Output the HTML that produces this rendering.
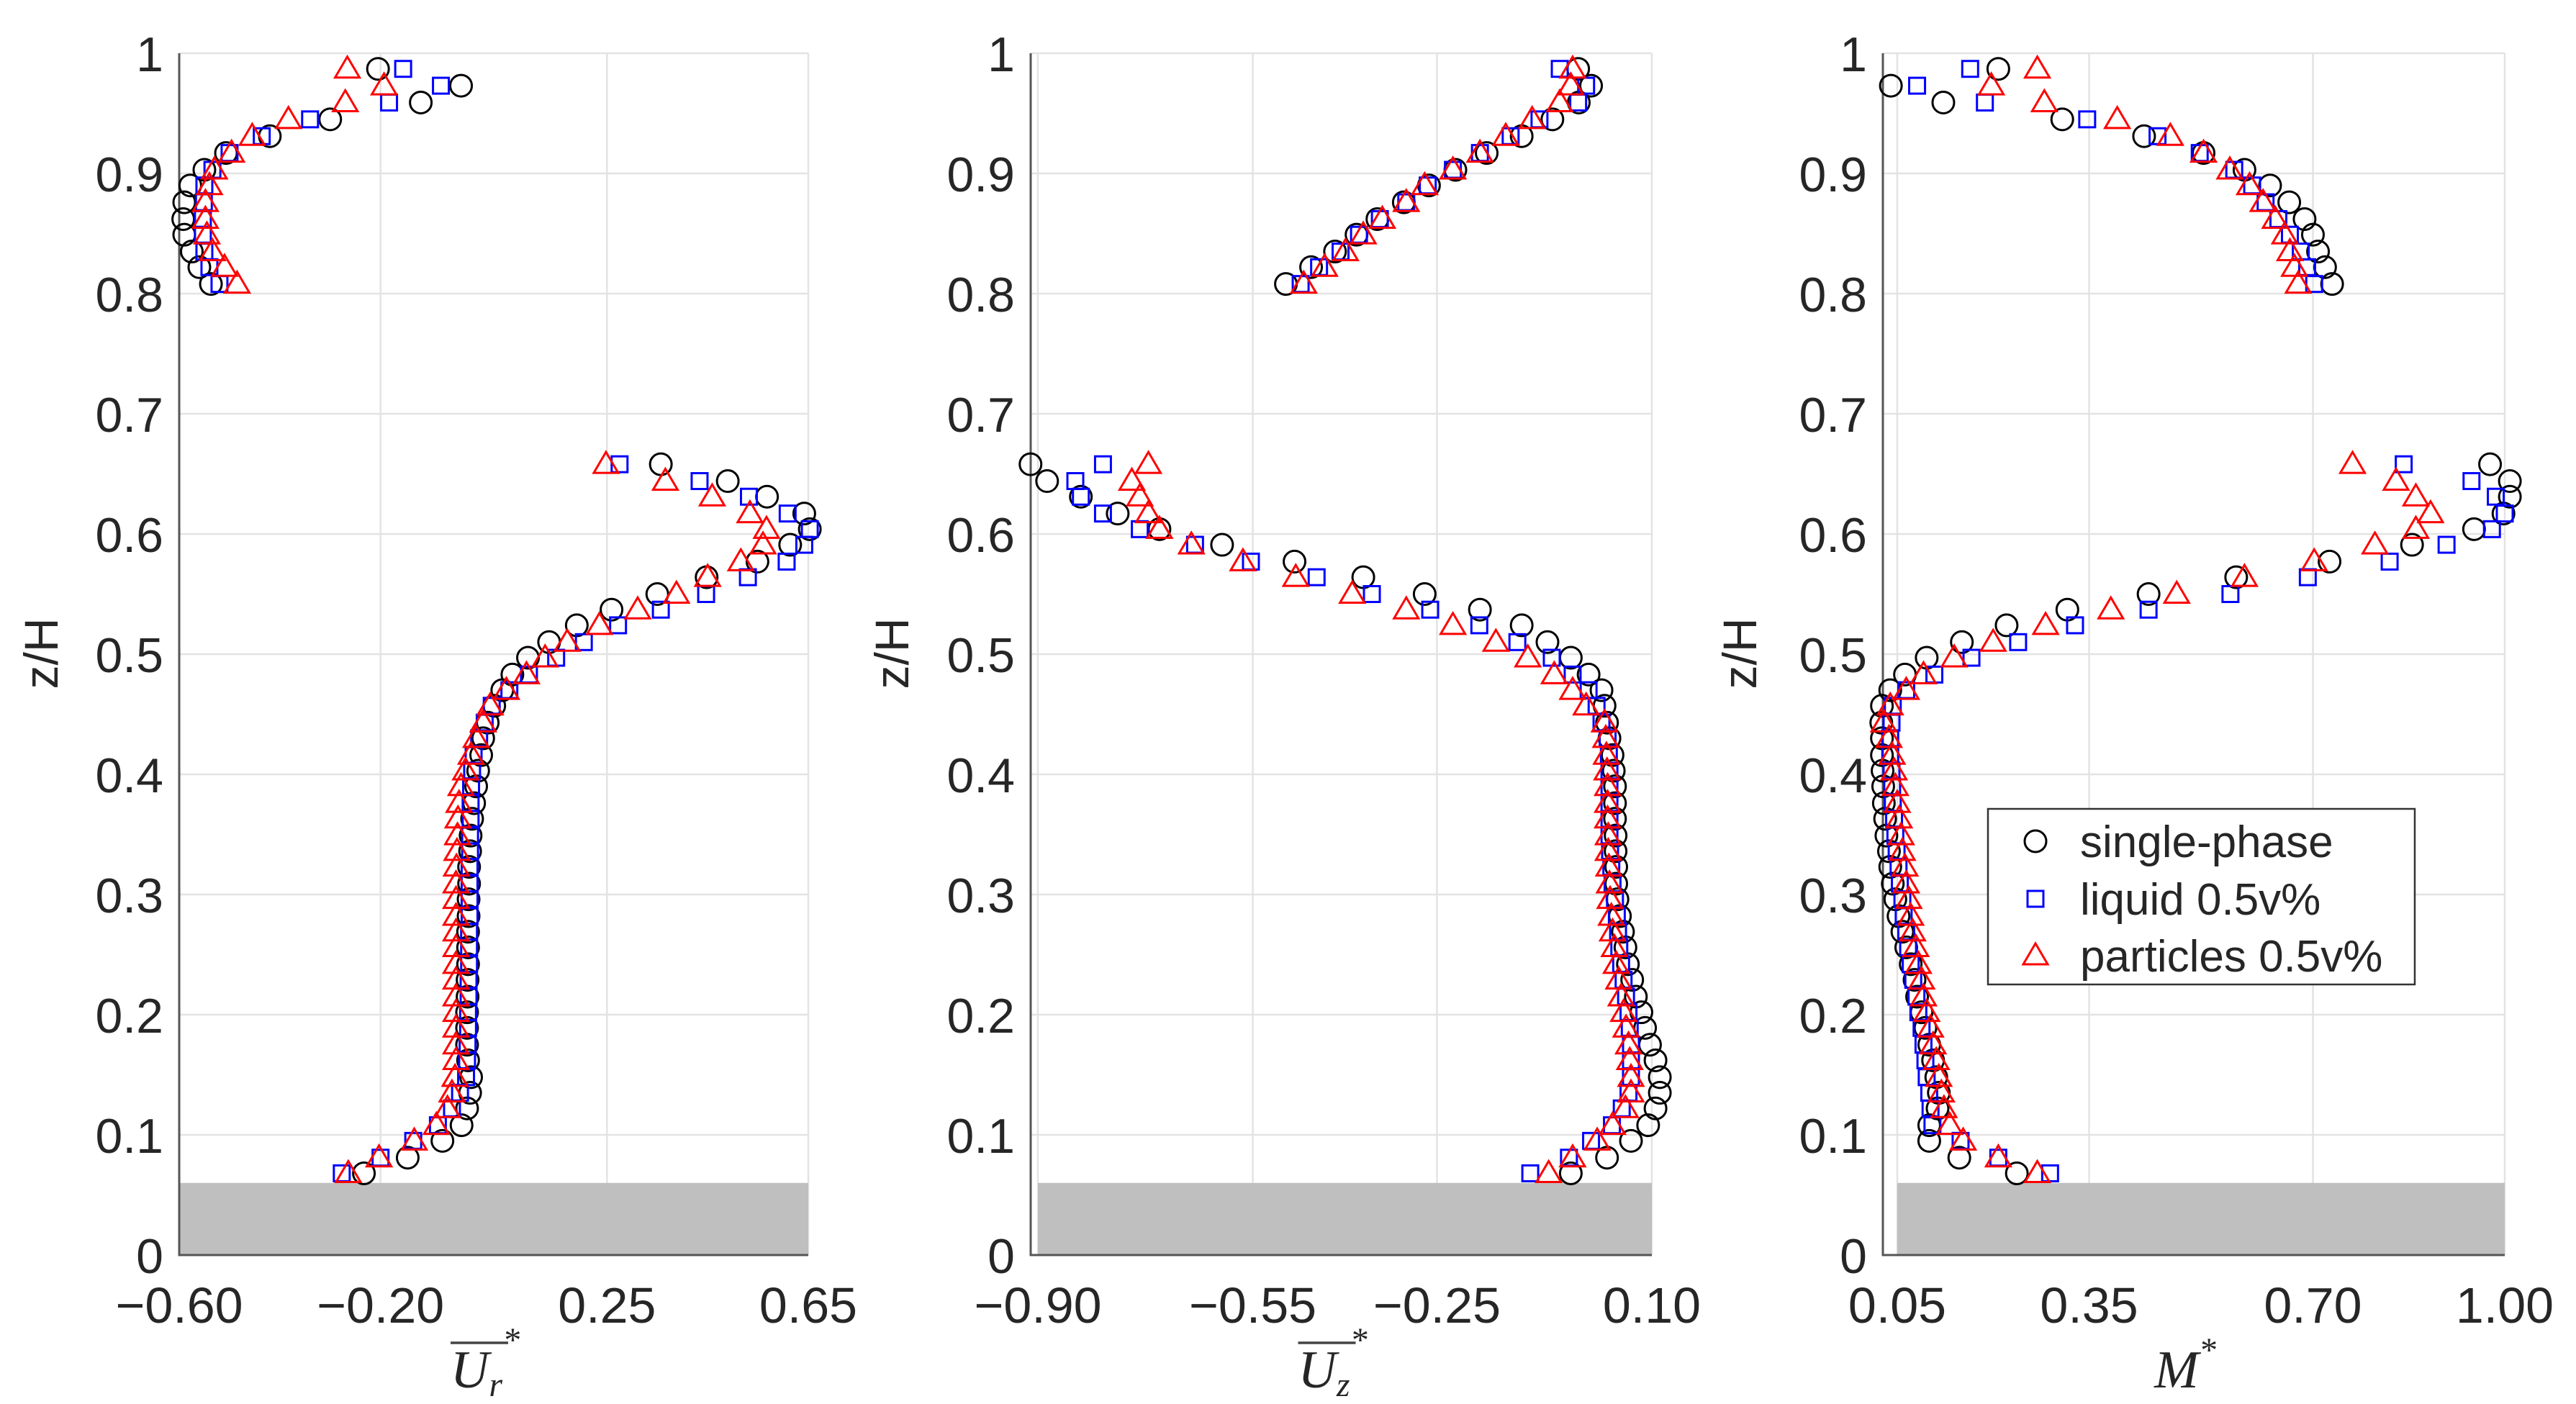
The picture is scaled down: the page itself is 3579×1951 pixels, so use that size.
<!DOCTYPE html>
<html><head><meta charset="utf-8">
<style>
html,body{margin:0;padding:0;background:#fff;}
svg{display:block;}
text{font-family:"Liberation Sans",sans-serif;fill:#262626;}
.ser{font-family:"Liberation Serif",serif;font-style:italic;}
</style></head>
<body>
<svg id="chart" width="3579" height="1951" viewBox="0 0 3579 1951" xmlns="http://www.w3.org/2000/svg"></svg>
<script>
// shared z/H positions: 45 lower points then 14 upper points
const zVals = [0.068,0.081,0.095,0.108,0.122,0.135,0.148,0.162,0.175,0.189,0.202,0.215,0.229,0.242,0.256,0.269,0.282,0.296,0.309,0.323,0.336,0.349,0.363,0.376,0.390,0.403,0.416,0.430,0.443,0.457,0.470,0.483,0.497,0.510,0.524,0.537,0.550,0.564,0.577,0.591,0.604,0.617,0.631,0.644,0.658,
 0.808,0.822,0.835,0.849,0.862,0.876,0.890,0.903,0.917,0.931,0.945,0.959,0.973,0.987];

const urSingle = [-0.233,-0.146,-0.077,-0.039,-0.028,-0.022,-0.020,-0.026,-0.028,-0.028,-0.028,-0.027,-0.027,-0.026,-0.026,-0.026,-0.025,-0.025,-0.024,-0.024,-0.022,-0.021,-0.018,-0.014,-0.010,-0.006,0.000,0.004,0.013,0.026,0.042,0.062,0.093,0.135,0.190,0.259,0.350,0.448,0.549,0.614,0.653,0.642,0.568,0.490,0.357,
 -0.537,-0.560,-0.575,-0.590,-0.592,-0.590,-0.578,-0.550,-0.507,-0.420,-0.300,-0.120,-0.040,-0.205];
const urLiquid = [-0.277,-0.200,-0.135,-0.086,-0.058,-0.042,-0.030,-0.028,-0.027,-0.026,-0.026,-0.025,-0.025,-0.024,-0.024,-0.024,-0.023,-0.023,-0.023,-0.023,-0.022,-0.022,-0.021,-0.021,-0.020,-0.018,-0.015,-0.004,0.007,0.021,0.056,0.095,0.149,0.204,0.272,0.357,0.447,0.530,0.607,0.642,0.653,0.609,0.532,0.434,0.275,
 -0.520,-0.540,-0.550,-0.553,-0.553,-0.551,-0.550,-0.534,-0.500,-0.436,-0.340,-0.183,-0.080,-0.155];
const urParticles = [-0.264,-0.203,-0.133,-0.089,-0.067,-0.058,-0.052,-0.050,-0.050,-0.050,-0.050,-0.050,-0.050,-0.050,-0.050,-0.050,-0.050,-0.050,-0.050,-0.049,-0.048,-0.047,-0.046,-0.044,-0.040,-0.031,-0.020,-0.010,0.004,0.018,0.050,0.090,0.127,0.171,0.235,0.311,0.388,0.450,0.516,0.560,0.567,0.534,0.459,0.366,0.248,
 -0.485,-0.510,-0.534,-0.545,-0.548,-0.548,-0.540,-0.530,-0.496,-0.455,-0.383,-0.270,-0.193,-0.266];

const uzSingle = [-0.032,0.027,0.066,0.094,0.106,0.113,0.113,0.106,0.097,0.089,0.083,0.074,0.068,0.061,0.057,0.053,0.048,0.044,0.042,0.042,0.041,0.041,0.040,0.040,0.040,0.038,0.036,0.031,0.027,0.023,0.018,-0.003,-0.032,-0.070,-0.112,-0.180,-0.270,-0.370,-0.482,-0.600,-0.702,-0.770,-0.830,-0.885,-0.912,
 -0.496,-0.455,-0.416,-0.381,-0.347,-0.304,-0.263,-0.220,-0.169,-0.112,-0.062,-0.019,0.001,-0.020];
const uzLiquid = [-0.098,-0.035,0.001,0.035,0.051,0.062,0.066,0.066,0.066,0.064,0.062,0.058,0.054,0.050,0.047,0.045,0.043,0.040,0.036,0.034,0.032,0.031,0.031,0.031,0.031,0.031,0.030,0.028,0.018,0.010,-0.003,-0.029,-0.063,-0.119,-0.181,-0.261,-0.356,-0.446,-0.553,-0.644,-0.734,-0.794,-0.830,-0.839,-0.794,
 -0.472,-0.442,-0.407,-0.377,-0.343,-0.300,-0.265,-0.224,-0.180,-0.130,-0.083,-0.020,-0.007,-0.050];
const uzParticles = [-0.068,-0.029,0.011,0.036,0.057,0.066,0.066,0.064,0.062,0.058,0.054,0.050,0.046,0.042,0.039,0.036,0.034,0.032,0.031,0.030,0.029,0.029,0.028,0.028,0.028,0.027,0.026,0.025,0.023,-0.007,-0.029,-0.059,-0.102,-0.154,-0.224,-0.300,-0.388,-0.480,-0.566,-0.650,-0.702,-0.720,-0.734,-0.747,-0.720,
 -0.467,-0.433,-0.399,-0.370,-0.339,-0.300,-0.270,-0.224,-0.180,-0.138,-0.095,-0.050,-0.032,-0.029];

const mSingle = [0.237,0.147,0.100,0.100,0.113,0.115,0.111,0.106,0.100,0.094,0.088,0.081,0.077,0.071,0.064,0.058,0.052,0.047,0.043,0.039,0.037,0.033,0.031,0.029,0.028,0.027,0.026,0.026,0.025,0.026,0.039,0.062,0.096,0.151,0.221,0.316,0.443,0.580,0.726,0.855,0.952,0.998,1.008,1.008,0.977,
 0.730,0.719,0.708,0.700,0.687,0.663,0.633,0.593,0.529,0.436,0.308,0.122,0.040,0.208];
const mLiquid = [0.289,0.208,0.149,0.105,0.102,0.100,0.096,0.094,0.091,0.088,0.083,0.080,0.075,0.071,0.067,0.064,0.060,0.058,0.054,0.052,0.049,0.047,0.045,0.043,0.042,0.041,0.039,0.039,0.041,0.043,0.064,0.108,0.166,0.239,0.328,0.443,0.571,0.692,0.820,0.909,0.980,1.000,0.986,0.948,0.842,
 0.702,0.691,0.681,0.664,0.646,0.626,0.605,0.577,0.523,0.457,0.347,0.187,0.081,0.164];
const mParticles = [0.269,0.208,0.153,0.132,0.123,0.119,0.115,0.111,0.106,0.102,0.096,0.091,0.088,0.083,0.079,0.074,0.071,0.068,0.064,0.062,0.058,0.056,0.053,0.050,0.047,0.045,0.042,0.037,0.029,0.039,0.064,0.091,0.139,0.200,0.282,0.384,0.487,0.593,0.702,0.797,0.861,0.884,0.861,0.830,0.762,
 0.677,0.671,0.664,0.656,0.641,0.622,0.601,0.570,0.529,0.477,0.394,0.280,0.197,0.269];

const yTicks = [0,0.1,0.2,0.3,0.4,0.5,0.6,0.7,0.8,0.9,1];
const yTickLabels = ["0","0.1","0.2","0.3","0.4","0.5","0.6","0.7","0.8","0.9","1"];
const urTicks = [-0.60,-0.20,0.25,0.65];
const urTickLabels = ["\u22120.60","\u22120.20","0.25","0.65"];
const uzTicks = [-0.90,-0.55,-0.25,0.10];
const uzTickLabels = ["\u22120.90","\u22120.55","\u22120.25","0.10"];
const mTicks = [0.05,0.35,0.70,1.00];
const mTickLabels = ["0.05","0.35","0.70","1.00"];
const wallTop = 0.06;

const NS = "http://www.w3.org/2000/svg";
const svg = document.getElementById('chart');
function mk(tag, attrs, parent){
  const e = document.createElementNS(NS, tag);
  for (const k in attrs) e.setAttribute(k, attrs[k]);
  (parent||svg).appendChild(e);
  return e;
}
const Y0 = 1744, Y1 = 74;
function yScale(z){ return Y0 + (Y1 - Y0) * z; }

const panels = [
  {key:'ur', xmin:-0.60, xmax:0.65, px0:249, px1:1123, tickA:-0.60, tickB:0.65, ticks:urTicks, labels:urTickLabels,
   series:[urSingle,urLiquid,urParticles], labelX:80, title:'U', sub:'r'},
  {key:'uz', xmin:-0.90, xmax:0.10, px0:1442, px1:2295, axisLeft:1432, tickA:-0.90, tickB:0.10, ticks:uzTicks, labels:uzTickLabels,
   series:[uzSingle,uzLiquid,uzParticles], labelX:1262, title:'U', sub:'z'},
  {key:'m', xmin:0.05, xmax:1.00, px0:2636, px1:3480, axisLeft:2616, tickA:0.05, tickB:1.00, ticks:mTicks, labels:mTickLabels,
   series:[mSingle,mLiquid,mParticles], labelX:2440, title:'M', sub:''}
];

function drawMarker(g, kind, cx, cy){
  let e;
  if (kind===0){
    e = mk('circle',{cx:cx,cy:cy,r:15,fill:'none',stroke:'#000','stroke-width':3},g);
    
  } else if (kind===1){
    e = mk('rect',{x:cx-11,y:cy-11,width:22,height:22,fill:'none',stroke:'#0000ff','stroke-width':3},g);
    
  } else {
    e = mk('polygon',{points:`${cx},${cy-17} ${cx-17},${cy+12} ${cx+17},${cy+12}`,fill:'none',stroke:'#ff0000','stroke-width':3},g);
    
  }
  
}

panels.forEach(p=>{
  const xs = v => p.px0 + (v - p.xmin)/(p.xmax - p.xmin)*(p.px1 - p.px0);
  const left = p.axisLeft || p.px0;
  const g = mk('g',{});
  
  
  // grid
  yTicks.forEach(t=>{
    const l = mk('line',{x1:left,x2:p.px1,y1:yScale(t),y2:yScale(t),stroke:'#e3e3e3','stroke-width':2.5},g);
    
    
  });
  p.ticks.forEach(t=>{
    const l = mk('line',{x1:xs(t),x2:xs(t),y1:Y0,y2:Y1,stroke:'#e3e3e3','stroke-width':2.5},g);
    
    
  });
  // wall band
  const band = mk('rect',{x:xs(p.tickA),y:yScale(wallTop),width:xs(p.tickB)-xs(p.tickA),height:Y0-yScale(wallTop),fill:'#bfbfbf'},g);
  
  
  // axes
  const ax = mk('line',{x1:left,x2:left,y1:Y1,y2:Y0+1.5,stroke:'#555','stroke-width':3},g);
  
  
  const bx = mk('line',{x1:left,x2:p.px1,y1:Y0,y2:Y0,stroke:'#555','stroke-width':3},g);
  
  
  // y tick labels
  yTicks.forEach((t,i)=>{
    const tx = mk('text',{x:left-22,y:yScale(t)+25,'text-anchor':'end','font-size':68},g);
    tx.textContent = yTickLabels[i];
    
    
  });
  // x tick labels
  p.ticks.forEach((t,i)=>{
    const tx = mk('text',{x:xs(t),y:1838,'text-anchor':'middle','font-size':70},g);
    tx.textContent = p.labels[i];
    
    
  });
  // y axis title
  const yt = mk('text',{x:p.labelX,y:908,'text-anchor':'middle','font-size':66,transform:`rotate(-90 ${p.labelX} 908)`},g);
  yt.textContent = 'z/H';
  
  
  // x axis title
  const cx = (left + p.px1)/2;
  const xt = mk('text',{x:cx-12,y:1928,'text-anchor':'middle','font-size':74,'class':'ser'},g);
  
  
  const t1 = mk('tspan',{},xt); t1.textContent = p.title;
  if (p.sub){
    const t2 = mk('tspan',{'font-size':48,dy:12},xt); t2.textContent = p.sub;
    const t3 = mk('tspan',{'font-size':48,dy:-62},xt); t3.textContent = '*';
    const ol = mk('line',{x1:cx-60,x2:cx+20,y1:1866,y2:1866,stroke:'#444','stroke-width':3.5},g);
    
    
  } else {
    const t3 = mk('tspan',{'font-size':48,dy:-36},xt); t3.textContent = '*';
  }
  // markers
  p.series.forEach((arr,k)=>{
    const sg = mk('g',{},g);
    
    
    arr.forEach((v,i)=> drawMarker(sg,k,xs(v),yScale(zVals[i])));
  });
});

// legend
const lg = mk('g',{});


const lb = mk('rect',{x:2762,y:1124,width:593,height:244,fill:'#fff',stroke:'#333','stroke-width':2.5},lg);


const legendNames = ['single-phase','liquid 0.5v%','particles 0.5v%'];
const legendY = [1169,1249,1328];
legendNames.forEach((n,i)=>{
  const eg = mk('g',{},lg);
  
  
  drawMarker(eg,i,2828,legendY[i]);
  const t = mk('text',{x:2890,y:legendY[i]+22,'font-size':62},eg);
  t.textContent = n;
  
  
});
</script>
</body></html>
